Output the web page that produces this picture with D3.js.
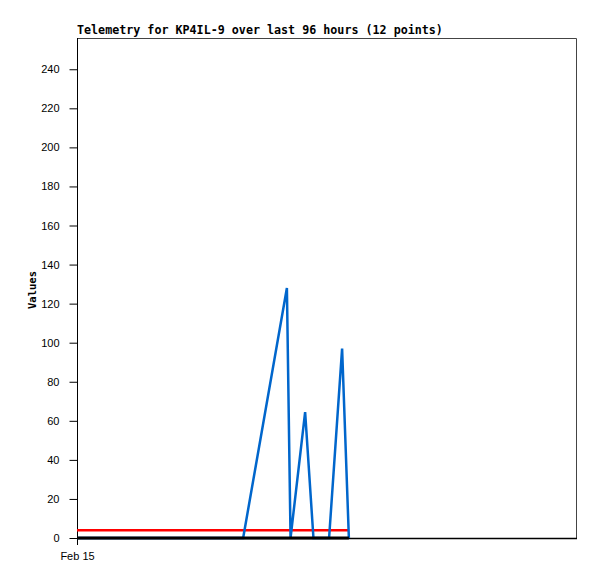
<!DOCTYPE html>
<html>
<head>
<meta charset="utf-8">
<script src="https://cdn.jsdelivr.net/npm/d3@7"></script>
<style>
  body { margin: 0; background: #fff; }
  svg { display: block; }
</style>
</head>
<body>
<script>
// telemetry samples, hours after Feb 15 00:00
var hours = [0, 8, 16, 24, 31.9, 40.3, 41.0, 43.8, 45.4, 48.4, 50.9, 52.2];
var telemA = [0, 0, 0, 0, 0, 128, 0, 64.5, 0, 0, 97, 0];   // blue
var telemB = [4, 4, 4, 4, 4, 4, 4, 4, 4, 4, 4, 4];          // red
var telemC = [0, 0, 0, 0, 0, 0, 0, 0, 0, 0, 0, 0];          // black
var yTicks = [0, 20, 40, 60, 80, 100, 120, 140, 160, 180, 200, 220, 240];
var startDate = new Date(2024, 1, 15);
var spanHours = 96;

var width = 597,
    height = 579;

var svg = d3.select("body").append("svg")
    .attr("width", width)
    .attr("height", height);

var x = d3.scaleTime()
    .domain([startDate, d3.timeHour.offset(startDate, spanHours)])
    .range([77, 577]);

var y = d3.scaleLinear()
    .domain([0, 256])
    .range([538, 38]);

var toDate = function(h){ return new Date(startDate.getTime() + h * 3600000); };

// frame (top / right)
svg.append("path")
    .attr("d", "M77,38.5H576.5V538")
    .attr("fill", "none")
    .attr("stroke", "#444")
    .attr("stroke-width", 1);

// y axis
var yAxis = svg.append("g")
    .attr("transform", "translate(77.5,0)")
    .call(d3.axisLeft(y).tickValues(yTicks).tickSize(8).tickPadding(10));
yAxis.select(".domain").remove();
yAxis.selectAll(".tick line").attr("stroke", "#000");
yAxis.selectAll("text")
    .attr("font-family", "Liberation Sans, Arial, sans-serif")
    .attr("font-size", 11)
    .attr("fill", "#000");

svg.append("line")
    .attr("x1", 77.5).attr("x2", 77.5)
    .attr("y1", 38).attr("y2", 545)
    .attr("stroke", "#000");

// x axis
var xAxis = svg.append("g")
    .attr("transform", "translate(0,539)")
    .call(d3.axisBottom(x).tickValues([startDate]).tickSize(0).tickPadding(13)
        .tickFormat(d3.timeFormat("%b %d")));
xAxis.select(".domain").remove();
xAxis.selectAll("text")
    .attr("font-family", "Liberation Sans, Arial, sans-serif")
    .attr("font-size", 11)
    .attr("fill", "#000");

svg.append("line")
    .attr("x1", 77).attr("x2", 577)
    .attr("y1", 538.5).attr("y2", 538.5)
    .attr("stroke", "#000")
    .attr("stroke-width", 1.5);

// series
var series = [
  { vals: telemB, color: "#ff0000", w: 2.5 },
  { vals: telemA, color: "#0066cc", w: 2.5 },
  { vals: telemC, color: "#000000", w: 3 }
];

var line = d3.line()
    .x(function(d){ return x(d.t); })
    .y(function(d){ return y(d.v); });

svg.selectAll("path.series")
    .data(series)
  .enter().append("path")
    .attr("class", "series")
    .attr("fill", "none")
    .attr("stroke", function(d){ return d.color; })
    .attr("stroke-width", function(d){ return d.w; })
    .attr("d", function(d){
      return line(d.vals.map(function(v, i){ return { t: toDate(hours[i]), v: v }; }));
    });

// title
svg.append("text")
    .attr("x", 77)
    .attr("y", 34)
    .attr("font-family", "DejaVu Sans Mono, monospace")
    .attr("font-weight", "bold")
    .attr("font-size", 11.7)
    .text("Telemetry for KP4IL-9 over last 96 hours (12 points)");

// y label
svg.append("text")
    .attr("transform", "translate(36,290) rotate(-90)")
    .attr("text-anchor", "middle")
    .attr("font-family", "DejaVu Sans Mono, monospace")
    .attr("font-weight", "bold")
    .attr("font-size", 10.5)
    .text("Values");
</script>
</body>
</html>
